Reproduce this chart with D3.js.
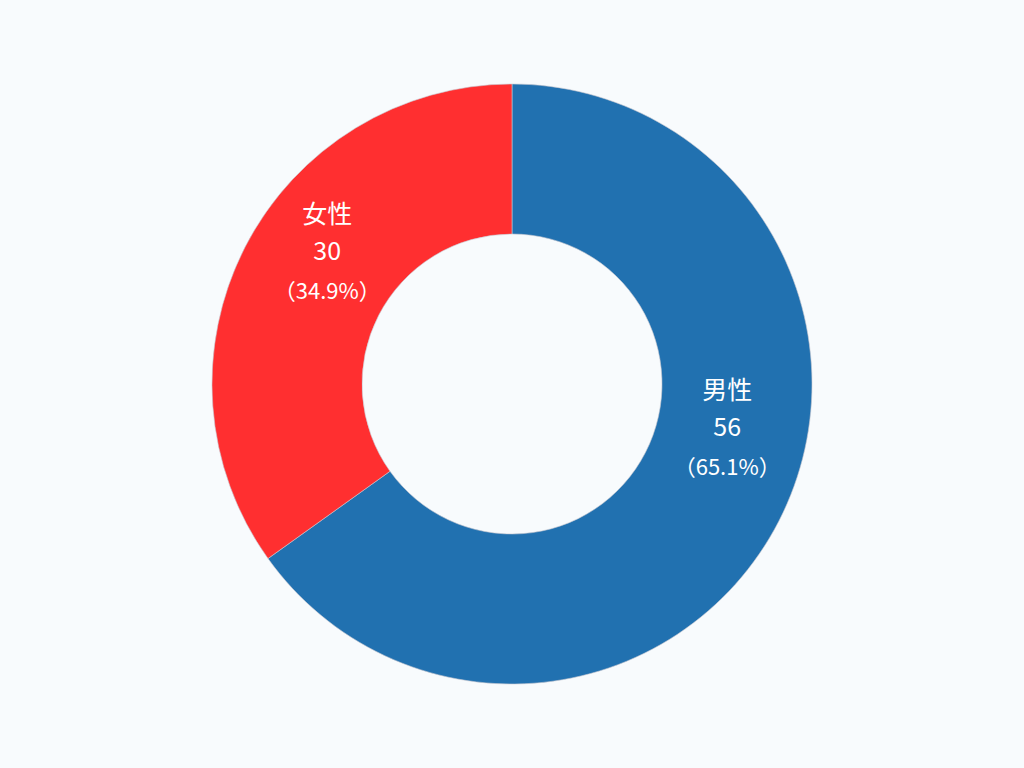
<!DOCTYPE html>
<html><head><meta charset="utf-8">
<script src="https://cdn.jsdelivr.net/npm/d3@7"></script>
<style>html,body{margin:0;padding:0;background:#f8fbfd;}svg{display:block;}</style>
</head><body>
<svg id="c" width="1024" height="768"></svg>
<script>
const categories = ["男性", "女性"];
const values = [56, 30];
const colors = ["#2171b0", "#ff2f30"];
// angular nudge (degrees) of each label from the slice mid-angle, and label radius
const labelNudge = [-16.5, 9];
const labelRadius = [219, 229];

const W = 1024, H = 768, cx = 512, cy = 384, R = 300, r0 = 150;
const svg = d3.select("#c");
svg.append("rect").attr("width", W).attr("height", H).attr("fill", "#f8fbfd");
const g = svg.append("g").attr("transform", `translate(${cx},${cy})`);
const total = d3.sum(values);
const data = categories.map((c, i) => ({c, v: values[i], col: colors[i], nudge: labelNudge[i], lr: labelRadius[i]}));
const pie = d3.pie().value(d => d.v).sort(null);
const arc = d3.arc().innerRadius(r0).outerRadius(R);
const arcs = pie(data);
g.selectAll("path").data(arcs).join("path")
  .attr("d", arc).attr("fill", d => d.data.col)
  .attr("stroke", "#c8c8d0").attr("stroke-width", 0.6);

const lab = g.selectAll("g.lab").data(arcs).join("g").attr("class", "lab")
  .attr("transform", d => {
    const a = (d.startAngle + d.endAngle) / 2 + d.data.nudge * Math.PI / 180;
    return `translate(${Math.sin(a) * d.data.lr},${-Math.cos(a) * d.data.lr})`;
  });
const font = "'Noto Sans CJK JP','Noto Sans',sans-serif";
lab.append("text").attr("y", -37).attr("text-anchor", "middle").attr("dominant-baseline", "central")
  .attr("fill", "#fff").style("font-family", font).style("font-size", "25px").text(d => d.data.c);
lab.append("text").attr("y", 0).attr("text-anchor", "middle").attr("dominant-baseline", "central")
  .attr("fill", "#fff").style("font-family", font).style("font-size", "25px").text(d => d.data.v);
lab.append("text").attr("y", 40).attr("text-anchor", "middle").attr("dominant-baseline", "central")
  .attr("fill", "#fff").style("font-family", font).style("font-size", "22px")
  .text(d => "（" + (d.data.v / total * 100).toFixed(1) + "%）");
</script>
</body></html>
